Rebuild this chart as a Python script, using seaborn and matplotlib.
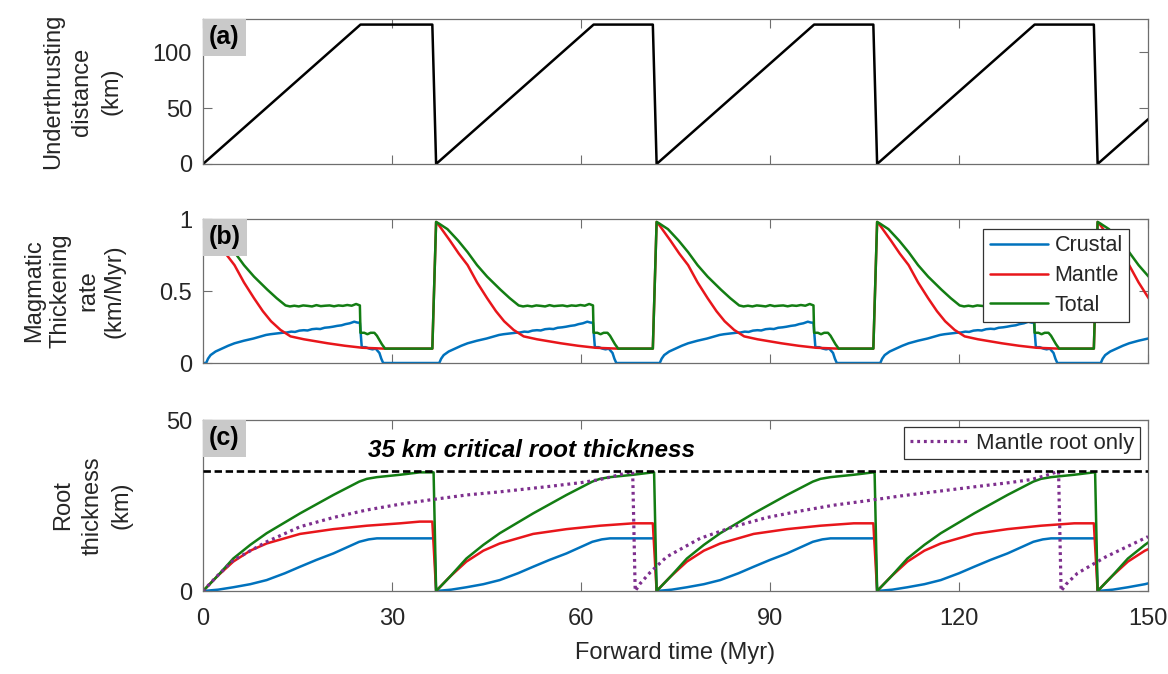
import seaborn as sns
import matplotlib.pyplot as plt

# cycle timing (Myr)
cycle_start = [0.0, 37.0, 72.0, 107.0, 142.0]
time_ticks = [0, 30, 60, 90, 120, 150]

# (a) underthrusting distance over one cycle (time since cycle start, km)
under_rel = [0, 25]
under_km = [0, 125]

# (b) magmatic thickening rate over one cycle (km/Myr)
crust_rate_rel = [0, 0.5, 0.8, 1.2, 2.0, 3.0, 4.0, 5.0, 6.5, 8.0,
                  10.0, 10.7, 11.3, 12.0, 12.6, 13.3, 14.0, 14.6, 15.3, 16.0,
                  16.6, 17.3, 18.0, 18.6, 19.3, 20.0, 20.6, 21.3, 22.0, 22.6,
                  23.3, 24.0, 24.5, 24.9,
                  25.2, 25.8, 26.4, 26.9, 27.4, 28.0, 28.3, 28.6]
crust_rate = [0, 0.0, 0.03, 0.055, 0.08, 0.10, 0.12, 0.137, 0.155, 0.17,
              0.195, 0.20, 0.203, 0.207, 0.21, 0.212, 0.218, 0.216, 0.225, 0.228,
              0.226, 0.235, 0.238, 0.236, 0.245, 0.248, 0.252, 0.258, 0.262, 0.27,
              0.276, 0.287, 0.281, 0.28,
              0.11, 0.11, 0.10, 0.095, 0.10, 0.07, 0.03, 0.0]

mantle_rate_rel = [0, 0.4, 2.2, 3.6, 5.0, 6.5, 8.1, 9.5, 10.8, 12.3, 13.9,
                   16.0, 19.8, 22.5, 25.3, 28.7]
mantle_rate = [0.98, 0.96, 0.85, 0.76, 0.68, 0.56, 0.45, 0.36, 0.29, 0.23, 0.185,
               0.165, 0.137, 0.12, 0.106, 0.10]

total_rate_rel = [0, 0.4, 1.8, 3.5, 5.0, 6.5, 8.1, 10.2, 11.7, 13.1,
                  13.8, 14.5, 15.2, 15.9, 16.6, 17.3, 18.0, 18.7, 19.4, 20.1,
                  20.8, 21.5, 22.2, 22.9, 23.6, 24.3, 24.9,
                  25.0, 25.6, 26.1, 26.6, 27.2, 27.6, 28.0, 28.4, 28.9]
total_rate = [0.98, 0.97, 0.93, 0.85, 0.77, 0.68, 0.60, 0.51, 0.45, 0.40,
              0.393, 0.398, 0.393, 0.40, 0.397, 0.393, 0.402, 0.395, 0.398, 0.40,
              0.394, 0.40, 0.397, 0.403, 0.398, 0.41, 0.40,
              0.21, 0.21, 0.20, 0.21, 0.21, 0.19, 0.16, 0.13, 0.10]

# (c) root thickness over one cycle (km)
crust_root_rel = [0, 2.4, 4.8, 7.5, 10.1, 13.0, 15.4, 18.0, 20.7, 24.8, 26.3, 27.6]
crust_root = [0, 0.4, 1.1, 2.0, 3.2, 5.2, 7.1, 9.1, 11.0, 14.4, 15.1, 15.4]

mantle_root_rel = [0, 2.2, 4.8, 7.5, 10.1, 15.4, 20.7, 26.0, 31.3, 34.4]
mantle_root = [0, 4.2, 8.6, 11.8, 13.9, 16.7, 18.1, 19.1, 19.8, 20.3]

total_root_rel = [0, 2.2, 4.8, 7.5, 10.1, 15.4, 20.7, 24.8, 26.0, 27.6, 31.3, 34.4]
total_root = [0, 4.2, 9.5, 13.5, 16.9, 22.7, 28.1, 32.0, 32.8, 33.3, 34.0, 34.7]

# mantle root only scenario (whole time axis)
mantle_only_t = [0, 2.2, 4.8, 10.1, 15.4, 20.7, 26.0, 31.3, 36.6, 41.9, 47.1, 55.0,
                 60.0, 63.0, 65.7, 68.2,
                 68.6, 69.4, 71.0, 73.6, 78.9, 84.2, 89.5, 94.8, 100.1, 105.4,
                 110.7, 116.0, 123.0, 128.0, 131.5, 133.8, 135.8,
                 136.2, 137.0, 138.8, 143.3, 150.0]
mantle_only = [0, 4.3, 9.0, 14.4, 18.8, 21.5, 23.7, 25.4, 26.8, 28.1, 29.0, 30.6,
               31.7, 32.6, 33.8, 35.0,
               0, 2.2, 5.5, 10.0, 15.4, 18.8, 21.5, 23.4, 25.1, 26.4,
               27.8, 29.0, 30.6, 31.7, 32.6, 33.8, 35.0,
               0, 2.0, 5.2, 10.0, 15.9]

critical_root = 35

BLUE = '#0072BD'
RED = '#E8161B'
GREEN = '#137D13'
PURPLE = '#7E2F8E'
TEXT = '#262626'
AXIS = '#6e6e6e'


def tile(rel, val, lead):
    # repeat one cycle at every cycle start, holding the last value until the next reset
    t, v = [], []
    for i, s in enumerate(cycle_start):
        stop = cycle_start[i + 1] - lead if i + 1 < len(cycle_start) else None
        for r, y in zip(rel, val):
            if stop is None or s + r < stop:
                t.append(s + r)
                v.append(y)
        if stop is not None:
            t.append(stop)
            v.append(v[-1])
    return t, v


def panel_tag(ax, tag):
    ax.annotate(tag, xy=(0, 1), xycoords='axes fraction', xytext=(4.5, -4.5),
                textcoords='offset points', ha='left', va='top', fontsize=18,
                fontweight='bold', color='black', zorder=10,
                bbox=dict(boxstyle='square,pad=0.25', fc='#c9c9c9', ec='none'))


def line(ax, t, v, color, label=None, lw=1.8, **kws):
    sns.lineplot(x=t, y=v, ax=ax, color=color, lw=lw, estimator=None,
                 sort=False, label=label, legend=label is not None, **kws)


sns.set_theme(style='ticks')
plt.rcParams['font.family'] = ['Liberation Sans', 'DejaVu Sans']
plt.rcParams.update({
    'xtick.direction': 'in', 'ytick.direction': 'in',
    'xtick.top': True, 'ytick.right': True,
    'xtick.major.size': 6.5, 'ytick.major.size': 6.5,
    'xtick.major.width': 0.8, 'ytick.major.width': 0.8,
    'axes.edgecolor': AXIS, 'axes.linewidth': 0.9,
    'xtick.color': AXIS, 'ytick.color': AXIS,
    'xtick.labelcolor': TEXT, 'ytick.labelcolor': TEXT,
    'axes.labelcolor': TEXT, 'text.color': TEXT,
    'font.size': 16.5, 'xtick.labelsize': 17, 'ytick.labelsize': 17,
    'axes.labelsize': 17,
    'xtick.major.pad': 12, 'ytick.major.pad': 8,
})

fig = plt.figure(figsize=(11.68, 6.74), dpi=100)
ax_a = fig.add_axes([0.1738, 0.7567, 0.8091, 0.2151])
ax_b = fig.add_axes([0.1738, 0.4614, 0.8091, 0.2136])
ax_c = fig.add_axes([0.1738, 0.1231, 0.8091, 0.2537])

# (a)
t, v = tile(under_rel, under_km, 0.6)
line(ax_a, t, v, 'black')
ax_a.set_ylim(0, 130)
ax_a.set_yticks([0, 50, 100])
ax_a.set_ylabel('Underthrusting\ndistance\n(km)', linespacing=1.4)
ax_a.yaxis.set_label_coords(-0.0857, 0.5)
panel_tag(ax_a, '(a)')

# (b)
t, v = tile(crust_rate_rel, crust_rate, 0.6)
line(ax_b, t, v, BLUE, 'Crustal')
t, v = tile(mantle_rate_rel, mantle_rate, 0.6)
line(ax_b, t, v, RED, 'Mantle')
t, v = tile(total_rate_rel, total_rate, 0.6)
line(ax_b, t, v, GREEN, 'Total')
ax_b.set_ylim(0, 1)
ax_b.set_yticks([0, 0.5, 1])
ax_b.set_yticklabels(['0', '0.5', '1'])
ax_b.set_ylabel('Magmatic\nThickening\nrate\n(km/Myr)', linespacing=1.3)
ax_b.yaxis.set_label_coords(-0.0815, 0.5)
leg = ax_b.legend(loc='upper right', bbox_to_anchor=(0.980, 0.931), borderaxespad=0,
                  fontsize=15.5, handlelength=2.7, handletextpad=0.3, labelspacing=0.4,
                  borderpad=0.3, fancybox=False, framealpha=1, edgecolor='#333333')
leg.get_frame().set_linewidth(0.9)
panel_tag(ax_b, '(b)')

# (c)
t, v = tile(crust_root_rel, crust_root, 0.3)
line(ax_c, t, v, BLUE)
t, v = tile(mantle_root_rel, mantle_root, 0.6)
line(ax_c, t, v, RED)
t, v = tile(total_root_rel, total_root, 0.4)
line(ax_c, t, v, GREEN)
line(ax_c, mantle_only_t, mantle_only, PURPLE, 'Mantle root only', lw=2.3,
     linestyle=(0, (0.9, 1.2)))
ax_c.axhline(critical_root, color='black', lw=1.9, ls=(0, (2.8, 1.4)), zorder=3)
ax_c.text(26.2, 39.2, '35 km critical root thickness', fontsize=17.5,
          fontweight='bold', fontstyle='italic', color='black', va='baseline')
ax_c.set_ylim(0, 50)
ax_c.set_yticks([0, 50])
ax_c.set_ylabel('Root\nthickness\n(km)', linespacing=1.4)
ax_c.yaxis.set_label_coords(-0.075, 0.5)
ax_c.set_xlabel('Forward time (Myr)', labelpad=9)
leg = ax_c.legend(loc='upper right', bbox_to_anchor=(0.9915, 0.959), borderaxespad=0,
                  fontsize=16, handlelength=2.7, handletextpad=0.3, borderpad=0.25,
                  fancybox=False, framealpha=1, edgecolor='#333333')
leg.get_frame().set_linewidth(0.9)
panel_tag(ax_c, '(c)')

for ax in (ax_a, ax_b, ax_c):
    ax.set_xlim(0, 150)
    ax.set_xticks(time_ticks)
for ax in (ax_a, ax_b):
    ax.tick_params(labelbottom=False)
    ax.set_xlabel('')

fig.savefig('out.png', dpi=100)
